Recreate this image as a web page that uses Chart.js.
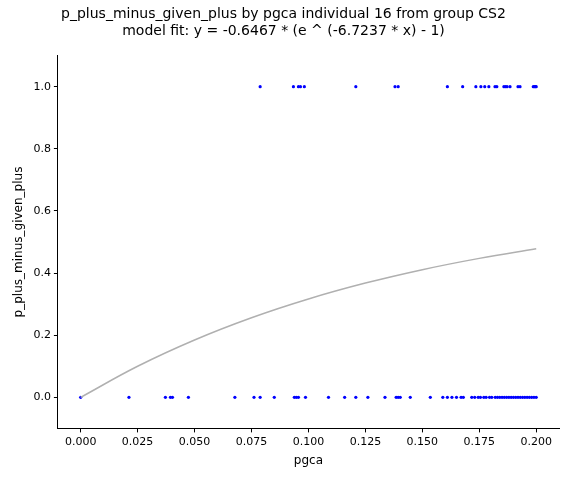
<!DOCTYPE html>
<html><head><meta charset="utf-8">
<script src="https://cdn.jsdelivr.net/npm/chart.js@4"></script>
<style>body{margin:0;background:#fff}#w{width:575px;height:480px}</style>
</head><body><div id="w"><canvas id="c"></canvas></div>
<script>
const onesX = [0.0788,0.0934,0.0956,0.0965,0.0982,0.1208,0.1380,0.1394,0.1610,0.1677,0.1735,0.1757,0.1774,0.1792,0.1819,0.1827,0.1858,0.1865,0.1872,0.1885,0.1920,0.1929,0.1987,0.1992,0.1996,0.2000];
const zerosX = [0,0.0212,0.0372,0.0394,0.0403,0.0473,0.0677,0.0761,0.0788,0.0850,0.0938,0.0947,0.0956,0.0987,0.1088,0.1159,0.1208,0.1261,0.1336,0.1385,0.1394,0.1403,0.1447,0.1535,0.1590,0.1610,0.1630,0.1650,0.1670,0.1680,0.1717,0.1730,0.1745,0.1755,0.1770,0.1780,0.1795,0.1805,0.1820,0.1830,0.1840,0.1850,0.1860,0.1870,0.1880,0.1890,0.1900,0.1910,0.1920,0.1930,0.1940,0.1950,0.1960,0.1970,0.1980,0.1990,0.2000];
// model fit sampled
const fitX = [0,0.025,0.05,0.075,0.1,0.125,0.15,0.175,0.2];
const fitY = [0,0.1000,0.1846,0.2562,0.3166,0.3677,0.4109,0.4473,0.4782];
const xTicks = [0,0.025,0.05,0.075,0.1,0.125,0.15,0.175,0.2];
const yTicks = [0,0.2,0.4,0.6,0.8,1];

Chart.defaults.font.family = "DejaVu Sans";
Chart.defaults.color = "#000";
const pts = a => a.map(x => ({x, y: a === onesX ? 1 : 0}));
const box = { id:"box", afterDraw(c){ const a=c.chartArea, g=c.ctx; g.save(); g.strokeStyle="#000"; g.lineWidth=1; g.strokeRect(a.left,a.top,a.right-a.left,a.bottom-a.top); g.restore(); } };
const gridOpt = { display:true, drawOnChartArea:false, tickLength:4, color:"#000" };
new Chart(document.getElementById("c"), {
  type: "scatter",
  data: { datasets: [
    { data: fitX.map((x,i)=>({x, y: fitY[i]})), showLine:true, borderColor:"#b0b0b0", borderWidth:1.5, pointRadius:0, tension:0.4 },
    { data: pts(onesX), backgroundColor:"#0000ff", borderWidth:0, pointRadius:1.6 },
    { data: pts(zerosX), backgroundColor:"#0000ff", borderWidth:0, pointRadius:1.6 }
  ]},
  options: {
    responsive:true, maintainAspectRatio:false, animation:false,
    layout:{ padding:{ left:8, right:16, top:4, bottom:8 } },
    plugins:{ legend:{ display:false }, tooltip:{ enabled:false },
      title:{ display:true, text:["p_plus_minus_given_plus by pgca individual 16 from group CS2","model fit: y = -0.6467 * (e ^ (-6.7237 * x) - 1)"], font:{ size:14, weight:"normal" }, padding:{ top:2, bottom:16 } } },
    scales:{
      x:{ min:-0.01, max:0.21, grid:gridOpt, border:{ color:"#000" },
        afterBuildTicks: ax => { ax.ticks = xTicks.map(v=>({value:v})); },
        ticks:{ callback: v => v.toFixed(3), font:{ size:11 }, maxRotation:0 },
        title:{ display:true, text:"pgca", font:{ size:12 }, padding:{ top:2 } } },
      y:{ min:-0.1, max:1.1, grid:gridOpt, border:{ color:"#000" },
        afterBuildTicks: ax => { ax.ticks = yTicks.map(v=>({value:v})); },
        ticks:{ callback: v => v.toFixed(1), font:{ size:11 } },
        title:{ display:true, text:"p_plus_minus_given_plus", font:{ size:12 } } }
    }
  }
}, );
Chart.register(box);
</script></body></html>
